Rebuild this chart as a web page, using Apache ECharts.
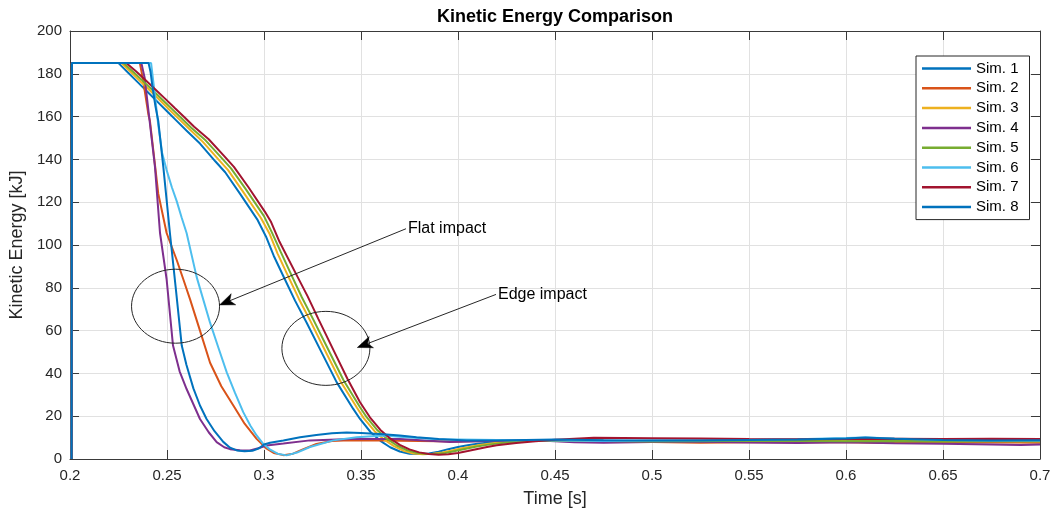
<!DOCTYPE html>
<html>
<head>
<meta charset="utf-8">
<script src="https://cdn.jsdelivr.net/npm/echarts@6/dist/echarts.min.js"></script>
<style>
html,body{margin:0;padding:0;background:#fff;}
#main{width:1055px;height:513px;}
</style>
</head>
<body>
<div id="main"></div>
<script>
// ---- data (time [s], kinetic energy [kJ]) ----
const seriesNames = ['Sim. 1','Sim. 2','Sim. 3','Sim. 4','Sim. 5','Sim. 6','Sim. 7','Sim. 8'];

const sim1 = [[0.2008,0],[0.201,185],[0.225,185],[0.23,180.5],[0.235,176],[0.24,171.5],[0.245,167],[0.25,162.5],[0.255,158],[0.26,153.5],[0.267,147.4],[0.275,139],[0.28,134],[0.2876,124],[0.2965,112],[0.301,104],[0.305,95],[0.31,85.4],[0.316,74],[0.322,63.7],[0.3306,48.2],[0.3375,35.8],[0.346,23.4],[0.3495,18.7],[0.355,12.5],[0.36,8.5],[0.365,5.5],[0.37,3.5],[0.375,2.5],[0.38,2.3],[0.385,2.6],[0.39,3.4],[0.395,4.6],[0.4,5.6],[0.405,6.4],[0.41,7.1],[0.415,7.6],[0.42,8.1],[0.43,8.5],[0.44,8.7],[0.45,8.8],[0.475,8.6],[0.5,8.3],[0.525,8.4],[0.55,8.7],[0.575,8.9],[0.6,8.8],[0.625,8.5],[0.65,8.3],[0.675,8.2],[0.7,8.4]];

const sim2 = [[0.2008,0],[0.201,185],[0.236,185],[0.2375,178],[0.2404,161],[0.2412,158],[0.2455,124],[0.2498,105.6],[0.255,93],[0.2584,84],[0.2619,74.6],[0.267,60],[0.2722,45],[0.278,34],[0.2842,25],[0.29,16.5],[0.2962,9.4],[0.3014,4.8],[0.305,2.8],[0.31,1.8],[0.315,2.5],[0.32,4.5],[0.327,7],[0.335,8.4],[0.3409,8.7],[0.35,8.7],[0.3615,8.6],[0.38,8.4],[0.4,8.2],[0.42,8.5],[0.45,8.4],[0.475,8.2],[0.5,7.9],[0.525,7.6],[0.55,7.8],[0.575,8.0],[0.6,7.8],[0.625,7.5],[0.65,7.6],[0.675,7.8],[0.7,7.6]];

const sim3 = [[0.2008,0],[0.201,185],[0.2265,185],[0.2315,180.7],[0.2365,176.3],[0.2415,172],[0.2465,167.5],[0.2515,163],[0.2565,158.6],[0.2615,154.2],[0.2685,148.2],[0.2765,140],[0.2815,135],[0.289,125.2],[0.2985,112.5],[0.303,105],[0.307,96],[0.312,86.3],[0.318,74.8],[0.324,64.3],[0.3325,48.8],[0.3395,36.2],[0.348,23.8],[0.3515,19],[0.357,13],[0.362,9],[0.367,6],[0.372,3.8],[0.377,2.6],[0.382,2.2],[0.387,2.4],[0.392,3],[0.397,4],[0.402,5],[0.407,5.9],[0.412,6.7],[0.418,7.4],[0.424,8],[0.432,8.4],[0.44,8.6],[0.45,8.7],[0.475,8.5],[0.5,8.4],[0.525,8.2],[0.55,8.5],[0.575,8.6],[0.6,8.4],[0.625,8.3],[0.65,8.4],[0.675,8.3],[0.7,8.2]];

const sim4 = [[0.2008,0],[0.201,185],[0.2368,185],[0.2385,178],[0.2404,163],[0.2438,136.5],[0.2464,105.6],[0.2498,84],[0.2531,53],[0.2565,41],[0.2601,32.7],[0.267,18.7],[0.2715,12.5],[0.2756,7.9],[0.2795,5.5],[0.2825,4.6],[0.2875,4.1],[0.2928,4],[0.297,5],[0.3014,6.3],[0.31,7.2],[0.3237,8.7],[0.3443,9.4],[0.37,9.4],[0.3959,7.9],[0.4216,8.5],[0.44,8.8],[0.46,7.8],[0.475,7.6],[0.5,7.9],[0.525,8.1],[0.55,7.7],[0.575,7.5],[0.6,7.8],[0.625,7.4],[0.65,7.1],[0.675,6.8],[0.69,6.5],[0.7,6.8]];

const sim5 = [[0.2008,0],[0.201,185],[0.2275,185],[0.2325,181],[0.2375,176.7],[0.2425,172.4],[0.2475,168],[0.2525,163.6],[0.2575,159.2],[0.2625,154.8],[0.27,148.8],[0.278,140.8],[0.283,135.8],[0.2905,126.2],[0.3,113.5],[0.304,106],[0.3085,97],[0.3135,87.2],[0.3195,75.6],[0.3255,65],[0.334,49.5],[0.341,36.8],[0.3495,24.2],[0.353,19.4],[0.3585,13.4],[0.3635,9.4],[0.3685,6.3],[0.3735,4.2],[0.3785,2.9],[0.3835,2.3],[0.3885,2.3],[0.3935,2.8],[0.3985,3.7],[0.4035,4.7],[0.409,5.7],[0.415,6.6],[0.421,7.3],[0.428,7.9],[0.436,8.4],[0.445,8.7],[0.475,8.4],[0.5,8.2],[0.525,8.3],[0.55,8.5],[0.575,8.4],[0.6,8.3],[0.625,8.4],[0.65,8.2],[0.675,8.3],[0.7,8.3]];

const sim6 = [[0.2008,0],[0.201,185],[0.2418,185],[0.2435,172],[0.2455,156],[0.2475,143],[0.2498,135],[0.2525,127],[0.255,120.5],[0.2575,113],[0.2601,105.6],[0.2653,85],[0.2722,63.7],[0.2765,52],[0.2808,40.5],[0.285,31],[0.2893,21.9],[0.293,15.5],[0.2962,11],[0.2997,7],[0.303,4.5],[0.307,2.5],[0.3117,1.7],[0.317,3],[0.3237,5.6],[0.3357,8.7],[0.3478,10.2],[0.3615,11],[0.3735,10.2],[0.39,9.2],[0.41,9.0],[0.43,8.8],[0.45,8.6],[0.475,8.4],[0.5,8.6],[0.525,8.8],[0.55,9.0],[0.575,9.2],[0.6,9.8],[0.61,10.1],[0.625,9.6],[0.65,8.9],[0.675,8.6],[0.7,8.7]];

const sim7 = [[0.2008,0],[0.201,185],[0.229,185],[0.234,181.2],[0.239,177],[0.244,172.7],[0.249,168.4],[0.254,164],[0.259,159.7],[0.264,155.3],[0.2715,149.4],[0.2795,141.5],[0.2845,136.5],[0.292,127],[0.3005,115.5],[0.3035,111],[0.308,101.5],[0.3165,86.5],[0.3225,76],[0.328,65.5],[0.336,50.5],[0.343,37.5],[0.3495,26.5],[0.3546,19.5],[0.36,13.6],[0.365,9.6],[0.37,6.6],[0.375,4.5],[0.38,3.1],[0.385,2.3],[0.39,2],[0.395,2.2],[0.4,2.8],[0.405,3.7],[0.41,4.7],[0.415,5.6],[0.42,6.4],[0.43,7.5],[0.44,8.3],[0.45,9],[0.46,9.5],[0.47,9.9],[0.5,9.7],[0.525,9.6],[0.55,9.3],[0.575,9.2],[0.6,9.4],[0.625,9.5],[0.65,9.4],[0.675,9.5],[0.7,9.4]];

const sim8 = [[0.2008,0],[0.201,185],[0.2405,185],[0.2415,181],[0.2425,174],[0.244,165],[0.2455,158],[0.2481,136.5],[0.2515,105.6],[0.2545,80],[0.2576,53],[0.26,44],[0.2636,33],[0.267,25],[0.2704,18.7],[0.2745,13],[0.279,8],[0.2825,5.3],[0.286,4],[0.29,3.6],[0.294,3.8],[0.2975,5],[0.3,6.8],[0.3031,7.6],[0.31,8.6],[0.3186,10.2],[0.327,11.2],[0.335,12],[0.3426,12.4],[0.35,12.2],[0.3615,11.6],[0.37,11],[0.3786,10.2],[0.39,9.3],[0.4044,8.7],[0.42,8.6],[0.435,8.9],[0.45,9.1],[0.475,8.8],[0.5,8.6],[0.525,8.7],[0.55,8.9],[0.575,9.1],[0.6,9.6],[0.61,10.0],[0.625,9.5],[0.65,8.9],[0.675,8.7],[0.7,8.8]];

const allSims = [sim1, sim2, sim3, sim4, sim5, sim6, sim7, sim8];

// annotation anchors in data coordinates
const annotations = [
  {label: 'Flat impact', textAt: [0.3737, 107.6], tip: [0.2771, 72.0], center: [0.2544, 71.4]},
  {label: 'Edge impact', textAt: [0.4201, 76.9], tip: [0.3481, 52.1], center: [0.3319, 51.7]}
];

// ---- styling ----
const colors = ['#0072BD','#D95319','#EDB120','#7E2F8E','#77AC30','#4DBEEE','#A2142F','#0072BD'];
const FONT = "'Liberation Sans', Arial, Helvetica, sans-serif";
const axisColor = '#3a3a3a';
const gridColor = '#e1e1e1';

const chart = echarts.init(document.getElementById('main'), null, {renderer: 'canvas'});

const xFmt = v => String(Math.round(v * 100) / 100);

const option = {
  animation: false,
  color: colors,
  title: {
    text: 'Kinetic Energy Comparison',
    left: 550,
    textAlign: 'center',
    top: 3,
    textStyle: {fontFamily: FONT, fontSize: 18, fontWeight: 'bold', color: '#000'}
  },
  grid: {left: 70, right: 15, top: 31, bottom: 53, containLabel: false},
  legend: {
    orient: 'vertical',
    left: 916,
    top: 56,
    padding: [5, 11, 5, 6],
    itemGap: 4.8,
    itemWidth: 49,
    itemHeight: 2.5,
    icon: 'rect',
    borderColor: '#262626',
    borderWidth: 1,
    backgroundColor: '#fff',
    textStyle: {fontFamily: FONT, fontSize: 15, color: '#000'},
    data: seriesNames
  },
  xAxis: [{
    type: 'value', min: 0.2, max: 0.7, interval: 0.05,
    name: 'Time [s]', nameLocation: 'middle', nameGap: 31,
    nameTextStyle: {fontFamily: FONT, fontSize: 18, color: '#262626'},
    axisLine: {show: true, onZero: false, lineStyle: {color: axisColor, width: 1}},
    axisTick: {show: true, inside: true, length: 9, lineStyle: {color: axisColor}},
    axisLabel: {fontFamily: FONT, fontSize: 15, color: '#262626', margin: 9, formatter: xFmt},
    splitLine: {show: true, lineStyle: {color: gridColor, width: 1}}
  }, {
    type: 'value', position: 'top', min: 0.2, max: 0.7, interval: 0.05,
    axisLine: {show: true, onZero: false, lineStyle: {color: axisColor, width: 1}},
    axisTick: {show: true, inside: true, length: 9, lineStyle: {color: axisColor}},
    axisLabel: {show: false},
    splitLine: {show: false}
  }],
  yAxis: [{
    type: 'value', min: 0, max: 200, interval: 20,
    name: 'Kinetic Energy [kJ]', nameLocation: 'middle', nameGap: 38,
    nameTextStyle: {fontFamily: FONT, fontSize: 18, color: '#262626'},
    axisLine: {show: true, onZero: false, lineStyle: {color: axisColor, width: 1}},
    axisTick: {show: true, inside: true, length: 9, lineStyle: {color: axisColor}},
    axisLabel: {fontFamily: FONT, fontSize: 15, color: '#262626', margin: 8},
    splitLine: {show: true, lineStyle: {color: gridColor, width: 1}}
  }, {
    type: 'value', position: 'right', min: 0, max: 200, interval: 20,
    axisLine: {show: true, onZero: false, lineStyle: {color: axisColor, width: 1}},
    axisTick: {show: true, inside: true, length: 9, lineStyle: {color: axisColor}},
    axisLabel: {show: false},
    splitLine: {show: false}
  }],
  series: allSims.map((d, i) => ({
    name: seriesNames[i],
    type: 'line',
    xAxisIndex: 0,
    yAxisIndex: 0,
    data: d,
    showSymbol: false,
    symbol: 'none',
    lineStyle: {width: 2, color: colors[i]},
    itemStyle: {color: colors[i]},
    z: 2 + i
  }))
};

chart.setOption(option);

// ---- annotations (ellipses + arrows), anchored to data coordinates ----
function toPx(p) { return chart.convertToPixel({seriesIndex: 0}, p); }
const graphics = [];
annotations.forEach(a => {
  const c = toPx(a.center);
  const t = toPx(a.textAt);
  const tip = toPx(a.tip);
  graphics.push({
    type: 'ellipse',
    shape: {cx: c[0], cy: c[1], rx: 44, ry: 37},
    style: {fill: 'none', stroke: '#262626', lineWidth: 1},
    z: 100
  });
  const start = [t[0] - 1, t[1]];
  const dx = tip[0] - start[0], dy = tip[1] - start[1];
  const len = Math.sqrt(dx * dx + dy * dy);
  const ux = dx / len, uy = dy / len;
  const nx = -uy, ny = ux;
  const headLen = 15, headHalf = 6, notch = 4;
  const base = [tip[0] - ux * headLen, tip[1] - uy * headLen];
  const notchPt = [tip[0] - ux * (headLen - notch), tip[1] - uy * (headLen - notch)];
  graphics.push({
    type: 'line',
    shape: {x1: start[0], y1: start[1], x2: notchPt[0], y2: notchPt[1]},
    style: {stroke: '#262626', lineWidth: 1},
    z: 100
  });
  graphics.push({
    type: 'polygon',
    shape: {points: [
      tip,
      [base[0] + nx * headHalf, base[1] + ny * headHalf],
      notchPt,
      [base[0] - nx * headHalf, base[1] - ny * headHalf]
    ]},
    style: {fill: '#000', stroke: '#000', lineWidth: 0.5},
    z: 101
  });
  graphics.push({
    type: 'text',
    x: t[0] + 1,
    y: t[1],
    style: {text: a.label, font: '16px ' + FONT, fill: '#000', textVerticalAlign: 'middle', verticalAlign: 'middle', textAlign: 'left', align: 'left'},
    z: 100
  });
});
chart.setOption({graphic: graphics});
</script>
</body>
</html>
